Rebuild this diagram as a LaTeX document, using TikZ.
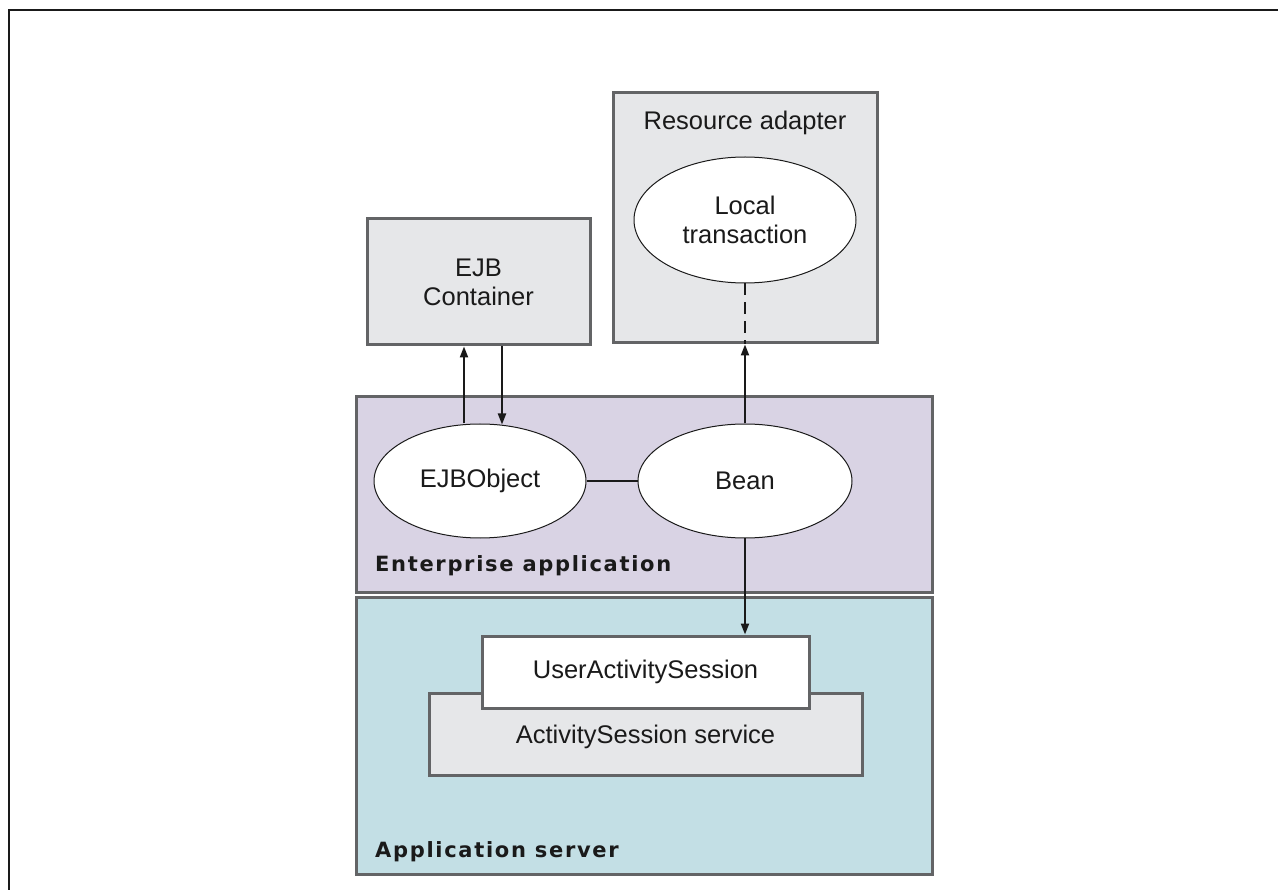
\documentclass[tikz,border=0pt]{standalone}
\usepackage{fontspec}
\setmainfont{Liberation Sans}
\newfontfamily\lblfont[LetterSpace=8]{DejaVu Sans Bold}
\usepackage{xcolor}
\usetikzlibrary{arrows.meta, positioning, calc, shapes.geometric}
\definecolor{BLine}{HTML}{636466}
\definecolor{BInk}{HTML}{1A1A1A}
\definecolor{BGrey}{HTML}{E6E7E9}
\definecolor{BLav}{HTML}{D9D3E4}
\definecolor{BTeal}{HTML}{C3DFE5}

\begin{document}
\begin{tikzpicture}[
  x=1pt, y=-1pt,
  font=\fontsize{25.5}{29}\selectfont,
  box/.style={rectangle, draw=BLine, line width=3pt, fill=BGrey,
              text=BInk, inner sep=0pt, align=center},
  zone/.style={box, line width=3pt},
  oval/.style={ellipse, draw=BInk, line width=1pt, fill=white,
               text=BInk, inner sep=0pt, align=center},
  flow/.style={-{Triangle[length=11pt,width=8pt]}, draw=BInk, line width=2pt},
  link/.style={draw=BInk, line width=2pt},
  lbl/.style={font=\lblfont\fontsize{21}{24}\selectfont, text=BInk,
              inner sep=0pt, anchor=base west},
]
\useasboundingbox (0,0) rectangle (1278,890);

% ── open frame ───────────────────────────────────────────────────────────
\draw[BInk, line width=2pt] (9,890) -- (9,10) -- (1278,10);

% ── zones ────────────────────────────────────────────────────────────────
\node[zone, fill=BLav, minimum width=576, minimum height=195] (ent) at (644,494.5) {};
\node[zone, fill=BTeal, minimum width=576, minimum height=277] (srv) at (644,735.5) {};
\node[lbl] at (375,571) {Enterprise application};
\node[lbl] at (375,857) {Application server};

% ── top boxes ────────────────────────────────────────────────────────────
\node[box, minimum width=223, minimum height=126] (ejb) at (478.5,282) {EJB\\Container};
\node[box, minimum width=264, minimum height=250] (res) at (745,218) {};
\node[inner sep=0pt, text=BInk] (restitle) at (745,123) {Resource adapter};
\node[oval, minimum width=222, minimum height=126] (loc) at (745,220) {Local\\transaction};

% ── enterprise application ───────────────────────────────────────────────
\node[oval, minimum width=212, minimum height=114] (obj)  at (480,481) {EJBObject};
\node[oval, minimum width=214, minimum height=114] (bean) at (745,481) {\raisebox{-3pt}{Bean}};

% ── application server ───────────────────────────────────────────────────
\node[box, minimum width=433, minimum height=82] (svc) at (645.5,734)
  {\raisebox{-24pt}{ActivitySession service}};
\node[box, fill=white, minimum width=327, minimum height=72] (uas) at (645.5,672)
  {UserActivitySession};

% ── connectors ───────────────────────────────────────────────────────────
\draw[flow] ([xshift=-16pt]obj.north) -- ([xshift=-16pt]obj.north |- ejb.south);
\draw[flow] ([xshift=22pt]obj.north |- ejb.south) -- ([xshift=22pt,yshift=-1pt]obj.north);
\draw[link] (obj.east) -- (bean.west);
\draw[flow] (bean.north) -- (bean.north |- res.south);
\draw[link, line width=1.5pt, dash pattern=on 12pt off 7pt] (loc.south) -- (loc.south |- res.south);
\draw[flow] (bean.south) -- (bean.south |- uas.north);

\end{tikzpicture}
\end{document}
